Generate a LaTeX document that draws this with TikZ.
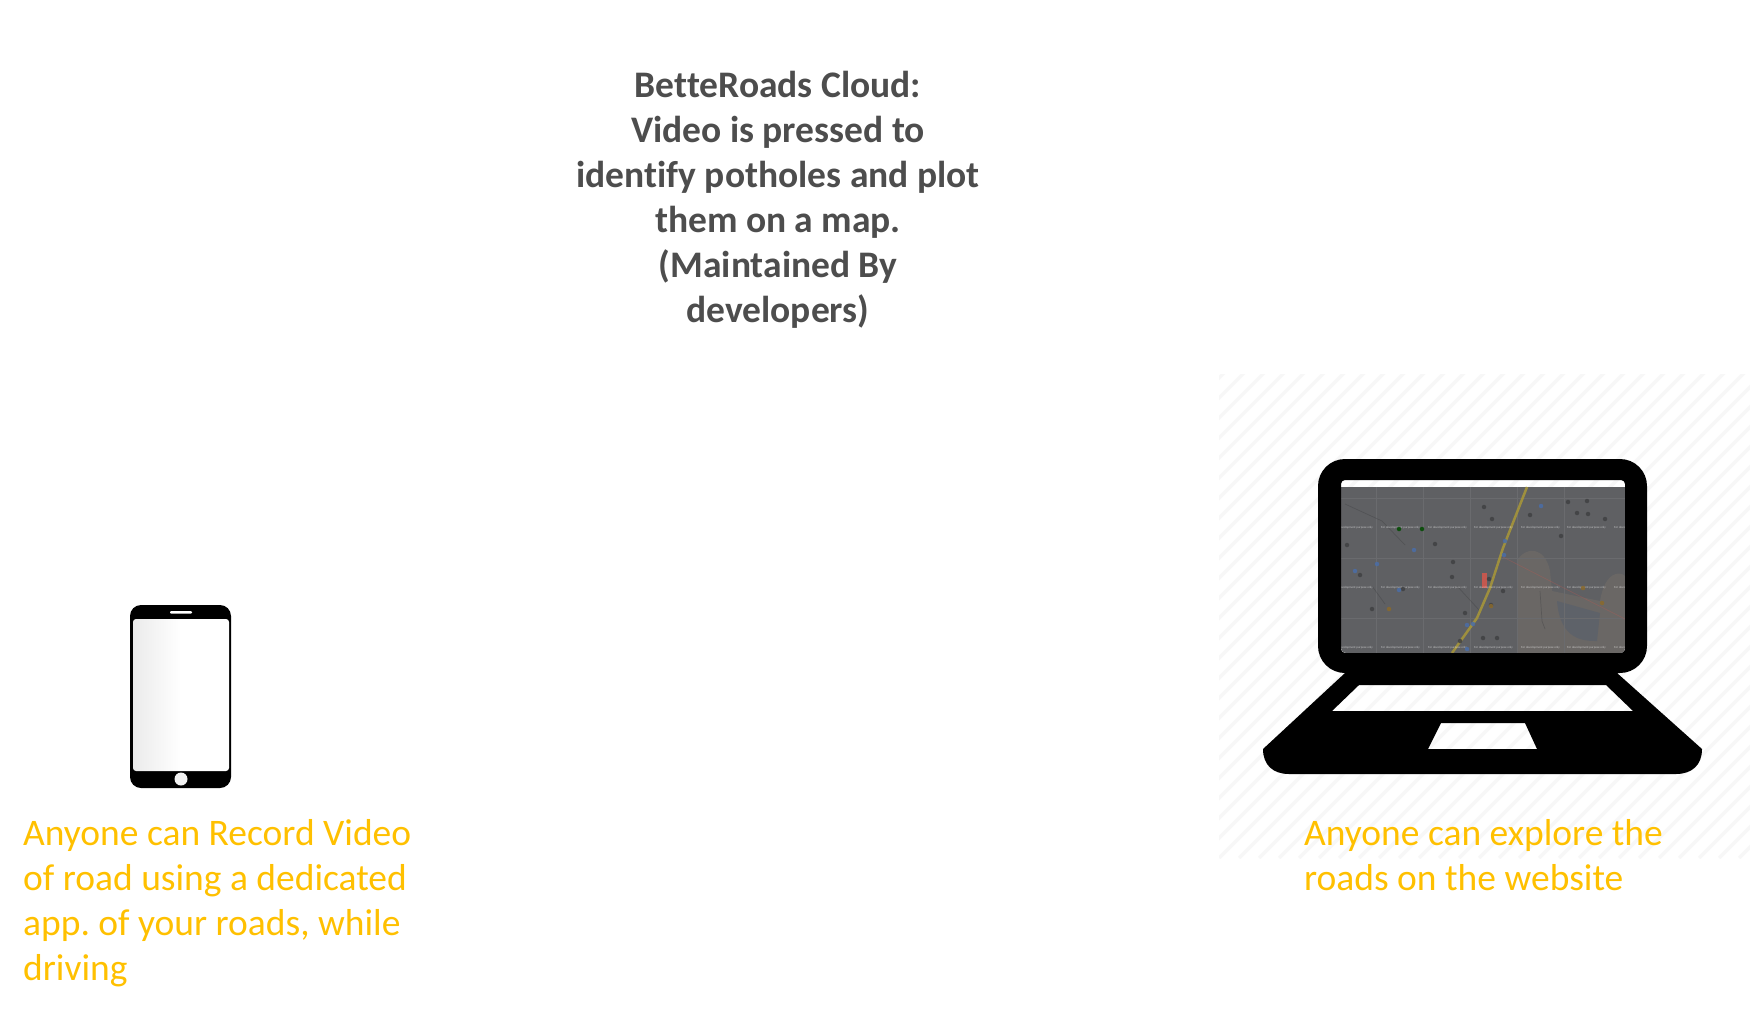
\documentclass[tikz,border=0pt]{standalone}
\usepackage{fontspec}
\setmainfont{Carlito}[Ligatures=NoCommon]
\frenchspacing
\definecolor{titlegray}{HTML}{4D4D4D}
\definecolor{captionyellow}{HTML}{FFC000}
\definecolor{hatchgray}{HTML}{F7F7F7}
\definecolor{mapgray}{HTML}{5F6063}
\definecolor{mapline}{HTML}{6A6B6E}
\definecolor{mapbeige}{HTML}{6A6765}
\definecolor{maplake}{HTML}{5E6269}
\definecolor{maproad}{HTML}{A5953A}
\definecolor{mapred}{HTML}{C4584F}
\definecolor{mappin}{HTML}{404143}
\definecolor{mapblue}{HTML}{4A6EA8}
\definecolor{maporange}{HTML}{8A6A2C}
\definecolor{screengray}{HTML}{EBEBEB}
\tikzset{
  titletext/.style={align=center,text=titlegray,font=\fontsize{37.5}{45}\selectfont\bfseries},
  captiontext/.style={align=left,anchor=north west,inner sep=0pt,text=captionyellow,font=\fontsize{37.5}{45}\selectfont},
  watermark/.style={anchor=west,inner sep=0pt,text=white,opacity=.6,font=\fontsize{3.1}{4}\selectfont},
  hatchline/.style={draw=hatchgray,line width=3.5pt},
  gridline/.style={draw=mapline,line width=.5pt},
  pin/.style={circle,fill=#1,opacity=.85,inner sep=0pt,minimum size=4.5pt},
}
\begin{document}
\begin{tikzpicture}[x=1pt,y=-1pt]
  \useasboundingbox (0,0) rectangle (1750,1012);
  % hatched area behind the laptop
  \begin{scope}
    \clip (1219,374) rectangle (1750,858);
    \foreach \i in {-25,...,27}
      \draw[hatchline] (1219+20*\i,858) -- ++(500,-500);
  \end{scope}
  % map on the screen
  \begin{scope}
    \clip[rounded corners=5pt] (1341,480) rectangle (1625,653);
    \fill[mapgray] (1341,487) rectangle (1625,653);
    \fill[mapbeige] (1517,653) -- (1517,561) .. controls (1525,546) and (1545,546) .. (1550,571)
      -- (1552,591) -- (1600,601) .. controls (1605,571) and (1620,571) .. (1625,576) -- (1625,653) -- cycle;
    \fill[maplake] (1557,601) -- (1600,613) -- (1597,641) .. controls (1585,641) and (1560,641) .. (1557,601) -- cycle;
    \foreach \x in {1376,1423,...,1610}
      \draw[gridline] (\x,487) -- (\x,653);
    \foreach \y in {498,558,618}
      \draw[gridline] (1341,\y) -- (1625,\y);
    \draw[mappin,line width=.7pt,opacity=.4] (1345,504) -- (1382,521) -- (1405,545);
    \draw[mappin,line width=.7pt,opacity=.4] (1372,586) -- (1385,604);
    \draw[mappin,line width=.7pt,opacity=.4] (1457,586) -- (1480,611);
    \draw[mappin,line width=.7pt,opacity=.4] (1540,591) -- (1542,621) -- (1545,629);
    \draw[mapred,line width=.7pt,opacity=.3] (1503,557) -- (1550,581) -- (1625,619);
    \draw[maproad,line width=2.5pt,opacity=.9] (1527,487) -- (1503,548) -- (1490,588) -- (1477,618) -- (1452,653);
    \fill[mapred] (1482,573) rectangle (1487,588);
    \foreach \y in {528,588,648}
      \foreach \x in {1334,1381,1428,1474,1521,1567,1614}
        \node[watermark] at (\x,\y) {For development purpose only};
    \foreach \x/\y in {1484/507,1492/519,1530/515,1568/502,1577/513,1587/501,1588/514,1605/519,1561/536,
      1347/545,1435/544,1453/562,1360/575,1452/577,1489/579,1503/591,1372/609,1403/589,1491/605,1460/641,1483/638,1497/638,1465/613}
      \node[pin=mappin] at (\x,\y) {};
    \foreach \x/\y in {1422/529,1399/529}
      \node[pin=black!70!green] at (\x,\y) {};
    \foreach \x/\y in {1541/506,1414/550,1377/564,1355/571,1399/590,1473/624,1467/625,1467/649,1504/555,1505/541}
      \node[pin=mapblue] at (\x,\y) {};
    \foreach \x/\y in {1389/609,1491/606,1583/588,1602/603}
      \node[pin=maporange] at (\x,\y) {};
  \end{scope}
  % laptop body
  \fill[black,even odd rule]
    [rounded corners=27pt] (1318,459) rectangle (1647,673)
    [rounded corners=4pt] (1341,480) rectangle (1625,653)
    [sharp corners] (1345,673) -- (1263,749) .. controls (1263,765) and (1273,774) .. (1289,774)
      -- (1676,774) .. controls (1692,774) and (1702,765) .. (1702,749) -- (1617,673) -- cycle
    (1359,685) -- (1332,711) -- (1633,711) -- (1606,685) -- cycle
    (1441,723) -- (1428,749) -- (1537,749) -- (1525,723) -- cycle;
  % phone
  \fill[black,rounded corners=11pt] (130,605) rectangle (231,788);
  \shade[left color=screengray,right color=white,middle color=white,rounded corners=3pt] (133,619) rectangle (229,771);
  \fill[white,rounded corners=1pt] (170,611) rectangle (192,613.5);
  \fill[white!95!black] (181,779) circle (6.5);
  % texts
  \draw
    (778,199.5) node[titletext] (cloud) {BetteRoads Cloud:\\Video is pressed to\\identify potholes and plot\\them on a map.\\(Maintained By\\developers)}
    (23,819) node[captiontext] (recordtext) {Anyone can Record Video\\of road using a dedicated\\app. of your roads, while\\driving}
    (1304,819) node[captiontext] (exploretext) {Anyone can explore the\\roads on the website};
\end{tikzpicture}
\end{document}
